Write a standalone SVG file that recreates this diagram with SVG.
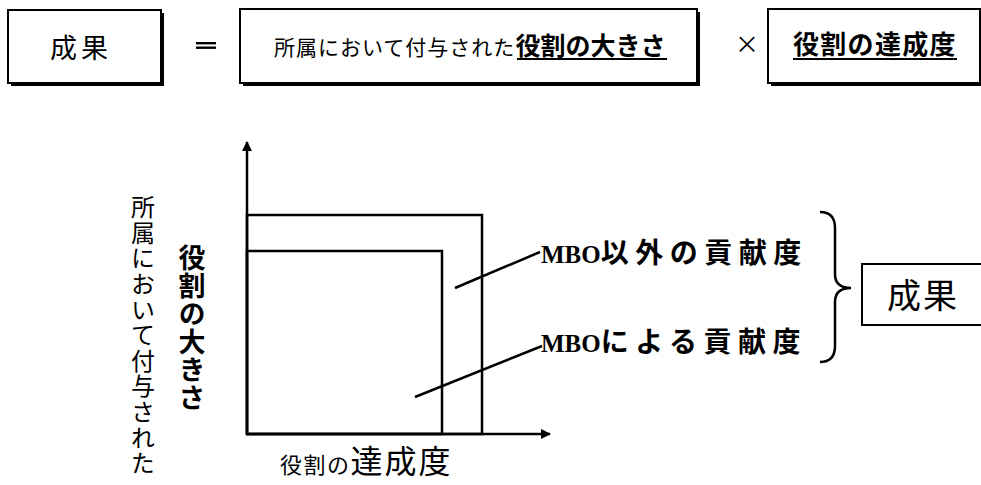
<svg xmlns="http://www.w3.org/2000/svg" width="981" height="485" viewBox="0 0 981 485">
<style>
  .jp { font-family: "Noto Sans CJK JP", "Liberation Sans", sans-serif; fill: #000; }
  .b { font-weight: bold; }
  .mbo { font-family: "Liberation Serif", "Noto Sans CJK JP", serif; font-weight: bold; font-size: 25px; fill: #000; }
  .box { fill: #fff; stroke: #000; stroke-width: 2; }
  .shadow { fill: #000; }
  .ln { stroke: #000; stroke-width: 2.5; fill: none; }
  .ul { stroke: #000; stroke-width: 2; }
</style>
<defs>
  <marker id="arr" markerWidth="10" markerHeight="10" refX="9" refY="5" orient="auto" markerUnits="userSpaceOnUse" viewBox="0 0 10 10">
    <path d="M0,0 L10,5 L0,10 z" fill="#000"/>
  </marker>
</defs>
<rect width="981" height="485" fill="#fff"/>

<g id="box-seika">
  <rect class="shadow" x="11" y="13" width="153" height="73"/>
  <rect class="box" x="8" y="10" width="153" height="73"/>
  <text class="jp" x="81" y="58" font-size="27" text-anchor="middle" letter-spacing="4">成果</text>
</g>
<g id="eq">
  <rect x="196" y="42" width="20" height="2.4" fill="#000"/>
  <rect x="196" y="46.5" width="20" height="2.4" fill="#000"/>
</g>
<g id="box-size">
  <rect class="shadow" x="243" y="12" width="457" height="74"/>
  <rect class="box" x="240" y="9" width="457" height="74"/>
  <text class="jp" x="274" y="55" font-size="21" letter-spacing="1">所属において付与された<tspan class="b" font-size="25" letter-spacing="0">役割の大きさ</tspan></text>
  <line class="ul" x1="517" y1="59" x2="667" y2="59"/>
</g>
<g id="times">
  <text class="jp" x="747" y="53" font-size="24" text-anchor="middle">×</text>
</g>
<g id="box-achieve">
  <rect class="shadow" x="771" y="12" width="212" height="74"/>
  <rect class="box" x="768" y="9" width="212" height="74"/>
  <text class="jp b" x="793" y="54" font-size="26" letter-spacing="1.3">役割の達成度</text>
  <line class="ul" x1="793" y1="59" x2="957" y2="59"/>
</g>

<g id="axis-labels">
  <text class="jp" x="143" y="195" font-size="24" writing-mode="tb" letter-spacing="1.6">所属において付与された</text>
  <text class="jp b" x="192" y="244" font-size="27" writing-mode="tb" letter-spacing="1">役割の大きさ</text>
  <text class="jp" x="280" y="473" font-size="22" letter-spacing="1.5">役割の<tspan font-size="32" letter-spacing="2">達成度</tspan></text>
</g>

<g id="chart">
  <rect class="ln" x="247" y="215" width="235" height="219"/>
  <rect class="ln" x="247" y="251" width="195" height="183"/>
</g>

<g id="connectors">
  <line class="ln" x1="247" y1="434" x2="247" y2="142" marker-end="url(#arr)" stroke-width="2"/>
  <line class="ln" x1="247" y1="434" x2="550" y2="434" marker-end="url(#arr)" stroke-width="2"/>
  <line class="ln" x1="455" y1="288" x2="540" y2="252"/>
  <line class="ln" x1="415" y1="397" x2="542" y2="346"/>
  <path class="ln" stroke-width="3" d="M820,212 Q835,212 835,228 L835,274 Q835,288 851,288 Q835,288 835,302 L835,346 Q835,362 820,362"/>
</g>

<g id="label-other">
  <text class="mbo" x="541" y="263">MBO<tspan class="jp b" font-size="28" letter-spacing="6.5">以外の貢献度</tspan></text>
</g>
<g id="label-mbo">
  <text class="mbo" x="541" y="352">MBO<tspan class="jp b" font-size="28" letter-spacing="6.5">による貢献度</tspan></text>
</g>

<g id="box-seika2">
  <rect class="box" x="862" y="264" width="130" height="61"/>
  <text class="jp" x="923" y="308" font-size="34" text-anchor="middle" letter-spacing="2">成果</text>
</g>
</svg>
